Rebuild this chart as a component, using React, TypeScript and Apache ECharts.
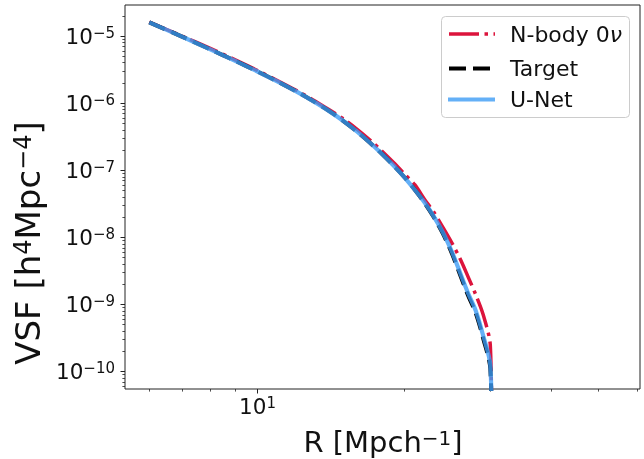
import React, { useEffect, useRef } from 'react';
import * as echarts from 'echarts';

// ---- data ----
const R = [6, 7, 8, 9, 10, 11, 12, 13, 14, 15, 16, 17, 18, 19, 20, 21, 22, 23, 24, 25, 26, 27, 28, 29, 30, 30.2];
const nbody = [1.61e-5, 1.0e-5, 6.53e-6, 4.41e-6, 3.06e-6, 2.16e-6, 1.551e-6, 1.116e-6, 8.03e-7, 5.83e-7, 4.08e-7, 2.82e-7, 1.926e-7, 1.306e-7, 8.84e-8, 6.1e-8, 3.68e-8, 2.34e-8, 1.4e-8, 8.37e-9, 4.83e-9, 2.6e-9, 1.404e-9, 7.07e-10, 2.44e-10, 1e-11];
const target = [1.6e-5, 9.8e-6, 6.33e-6, 4.27e-6, 2.96e-6, 2.09e-6, 1.494e-6, 1.071e-6, 7.67e-7, 5.41e-7, 3.75e-7, 2.57e-7, 1.743e-7, 1.175e-7, 7.86e-8, 5.12e-8, 3.26e-8, 1.973e-8, 1.124e-8, 5.87e-9, 2.8e-9, 1.372e-9, 7.47e-10, 3.15e-10, 1.11e-10, 1e-11];
const unet = [1.6e-5, 9.8e-6, 6.33e-6, 4.27e-6, 2.96e-6, 2.09e-6, 1.494e-6, 1.071e-6, 7.67e-7, 5.41e-7, 3.75e-7, 2.57e-7, 1.743e-7, 1.175e-7, 7.86e-8, 5.12e-8, 3.3e-8, 2.02e-8, 1.17e-8, 6.2e-9, 3.0e-9, 1.48e-9, 8.1e-10, 3.45e-10, 1.25e-10, 1e-11];

const seriesNames = ['N-body 0ν', 'Target', 'U-Net'];

// ---- axis ticks ----
const xMin = 5.35;
const xMax = 60.8;
const yMin = 5.5e-11;
const yMax = 2.9e-5;
const xMajorTicks = [10];
const xMinorTicks = [6, 7, 8, 9, 20, 30, 40, 50, 60];
const yMajorTicks = [1e-10, 1e-9, 1e-8, 1e-7, 1e-6, 1e-5];
const yMinorMult = [2, 3, 4, 5, 6, 7, 8, 9];
const yMinorExp = [-11, -10, -9, -8, -7, -6, -5];

const FONT = 'DejaVu Sans';
const INK = '#111111';
const RED = '#dc143c';
const BLUE = '#3d9cf5';

function supLabel(v: number) {
  const e = Math.round(Math.log10(v));
  const s = e < 0 ? '\u2212' + String(-e) : String(e);
  return '{b|10}{s|' + s + '}';
}

const tickRich = {
  b: { fontSize: 21.5, lineHeight: 22, fontFamily: FONT, color: INK },
  s: { fontSize: 15, lineHeight: 9, verticalAlign: 'top', fontFamily: FONT, color: INK },
};

export default function App() {
  const ref = useRef<HTMLDivElement>(null);

  useEffect(() => {
    if (!ref.current) return;
    const chart = echarts.init(ref.current, undefined, { renderer: 'svg' });
    const yMinor: number[] = [];
    yMinorExp.forEach((e) => yMinorMult.forEach((m) => yMinor.push(Number((m * Math.pow(10, e)).toPrecision(3)))));

    const toPairs = (ys: number[]) => R.map((r, i) => [r, ys[i]]);

    const legendRows = [34, 68.5, 99.5];
    const lx0 = 449;
    const lx1 = 495;

    chart.setOption({
      animation: false,
      textStyle: { fontFamily: FONT },
      grid: { left: 125, right: 4, top: 5, bottom: 70, show: true, borderColor: '#222', borderWidth: 1, backgroundColor: 'transparent' },
      xAxis: [
        {
          type: 'log', min: xMin, max: xMax, position: 'bottom',
          axisLine: { show: false },
          splitLine: { show: false },
          minorTick: { show: false },
          axisTick: { show: true, customValues: xMajorTicks, length: 4.5, lineStyle: { color: '#222', width: 1 } },
          axisLabel: { show: true, customValues: xMajorTicks, margin: 6, formatter: (v: number) => supLabel(v), rich: tickRich },
        },
        {
          type: 'log', min: xMin, max: xMax, position: 'bottom',
          axisLine: { show: false },
          splitLine: { show: false },
          axisTick: { show: true, customValues: xMinorTicks, length: 2.6, lineStyle: { color: '#222', width: 0.8 } },
          axisLabel: { show: false },
        },
      ],
      yAxis: [
        {
          type: 'log', min: yMin, max: yMax, position: 'left',
          axisLine: { show: false },
          splitLine: { show: false },
          minorTick: { show: false },
          axisTick: { show: true, customValues: yMajorTicks, length: 4.5, lineStyle: { color: '#222', width: 1 } },
          axisLabel: { show: true, customValues: yMajorTicks, margin: 10, formatter: (v: number) => supLabel(v), rich: tickRich },
        },
        {
          type: 'log', min: yMin, max: yMax, position: 'left',
          axisLine: { show: false },
          splitLine: { show: false },
          axisTick: { show: true, customValues: yMinor, length: 2.6, lineStyle: { color: '#222', width: 0.8 } },
          axisLabel: { show: false },
        },
      ],
      series: [
        {
          name: seriesNames[0], type: 'line', xAxisIndex: 0, yAxisIndex: 0, data: toPairs(nbody),
          symbol: 'none', showSymbol: false, z: 2, smooth: 0.3,
          lineStyle: { color: RED, width: 3.5, type: [30, 5.5, 3.5, 5.5], cap: 'butt' },
        },
        {
          name: seriesNames[1], type: 'line', xAxisIndex: 0, yAxisIndex: 0, data: toPairs(target),
          symbol: 'none', showSymbol: false, z: 3, smooth: 0.3,
          lineStyle: { color: '#000', width: 4, type: [17, 7], cap: 'butt' },
        },
        {
          name: seriesNames[2], type: 'line', xAxisIndex: 0, yAxisIndex: 0, data: toPairs(unet),
          symbol: 'none', showSymbol: false, z: 4, smooth: 0.3,
          lineStyle: { color: BLUE, width: 4.2, opacity: 0.8 },
        },
      ],
      graphic: [
        // legend
        {
          type: 'rect', z: 10,
          shape: { x: 441.5, y: 16.5, width: 188, height: 101, r: 4 },
          style: { fill: 'rgba(255,255,255,0.8)', stroke: '#cccccc', lineWidth: 1 },
        },
        {
          type: 'line', z: 11,
          shape: { x1: lx0, y1: legendRows[0], x2: lx1, y2: legendRows[0] },
          style: { stroke: RED, lineWidth: 3.5, lineDash: [30, 5.5, 3.5, 5.5], lineCap: 'butt' },
        },
        {
          type: 'line', z: 11,
          shape: { x1: lx0, y1: legendRows[1], x2: lx1, y2: legendRows[1] },
          style: { stroke: '#000', lineWidth: 4, lineDash: [17, 7], lineCap: 'butt' },
        },
        {
          type: 'line', z: 11,
          shape: { x1: lx0 - 1, y1: legendRows[2], x2: lx1, y2: legendRows[2] },
          style: { stroke: BLUE, lineWidth: 4.2, opacity: 0.8 },
        },
        {
          type: 'text', z: 11, x: 510, y: legendRows[0],
          style: {
            text: 'N-body 0{i|ν}', fontSize: 22, fontFamily: FONT, fill: INK,
            align: 'left', verticalAlign: 'middle', textAlign: 'left', textVerticalAlign: 'middle',
            rich: { i: { fontSize: 22, fontFamily: FONT, fontStyle: 'italic', fill: INK, color: INK } },
          },
        },
        {
          type: 'text', z: 11, x: 510, y: legendRows[1],
          style: { text: seriesNames[1], fontSize: 22, fontFamily: FONT, fill: INK, align: 'left', verticalAlign: 'middle', textAlign: 'left', textVerticalAlign: 'middle' },
        },
        {
          type: 'text', z: 11, x: 510, y: legendRows[2],
          style: { text: seriesNames[2], fontSize: 22, fontFamily: FONT, fill: INK, align: 'left', verticalAlign: 'middle', textAlign: 'left', textVerticalAlign: 'middle' },
        },
        // x axis title
        {
          type: 'text', z: 11, x: 383, y: 442,
          style: {
            text: 'R [Mpch{s|\u22121}]', fontSize: 29, lineHeight: 28, fontFamily: FONT, fill: INK,
            align: 'center', verticalAlign: 'middle', textAlign: 'center', textVerticalAlign: 'middle',
            rich: { s: { fontSize: 20, lineHeight: 12, verticalAlign: 'top', fontFamily: FONT, fill: INK, color: INK } },
          },
        },
        // y axis title
        {
          type: 'text', z: 11, x: 28, y: 243, rotation: Math.PI / 2,
          style: {
            text: 'VSF [h{s|4}Mpc{s|\u22124}]', fontSize: 34, lineHeight: 35, fontFamily: FONT, fill: INK,
            align: 'center', verticalAlign: 'middle', textAlign: 'center', textVerticalAlign: 'middle',
            rich: { s: { fontSize: 24, lineHeight: 13, verticalAlign: 'top', fontFamily: FONT, fill: INK, color: INK } },
          },
        },
      ],
    });
    return () => chart.dispose();
  }, []);

  return <div ref={ref} style={{ position: 'fixed', left: 0, top: 0, width: 644, height: 459 }} />;
}
